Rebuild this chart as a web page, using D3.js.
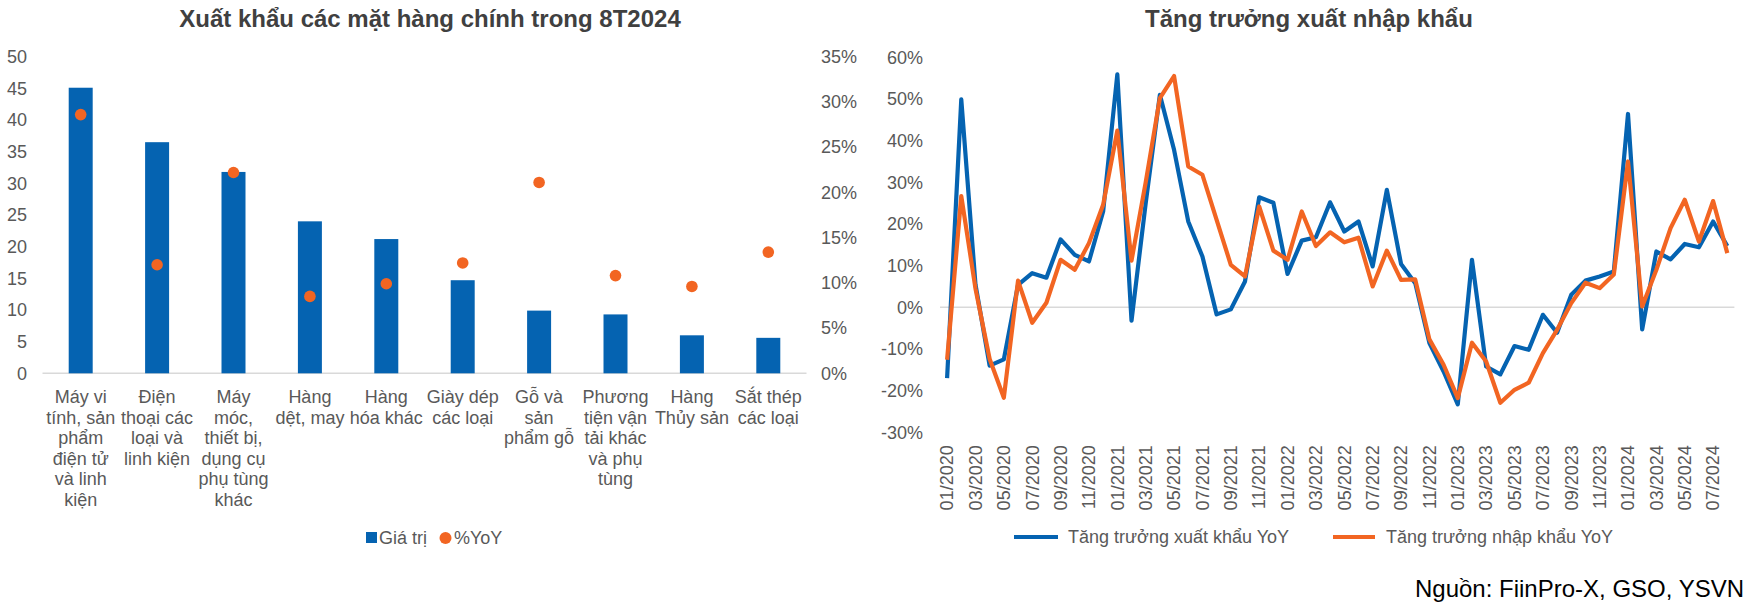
<!DOCTYPE html>
<html>
<head>
<meta charset="utf-8">
<script src="https://cdn.jsdelivr.net/npm/d3@7"></script>
<style>
  body { margin: 0; background: #fff; }
  text { font-family: Arial, "Liberation Sans", sans-serif; }
</style>
</head>
<body>
<div id="chart"></div>
<script>
const width = 1754;
const height = 603;

// bieu do trai: xuat khau cac mat hang chinh 8T2024
const categories = [
  'Máy vi\ntính, sản\nphẩm\nđiện tử\nvà linh\nkiện',
  'Điện\nthoại các\nloại và\nlinh kiện',
  'Máy\nmóc,\nthiết bị,\ndụng cụ\nphụ tùng\nkhác',
  'Hàng\ndệt, may',
  'Hàng\nhóa khác',
  'Giày dép\ncác loại',
  'Gỗ và\nsản\nphẩm gỗ',
  'Phương\ntiện vận\ntải khác\nvà phụ\ntùng',
  'Hàng\nThủy sản',
  'Sắt thép\ncác loại'
];
const exportValue = [45.1, 36.5, 31.8, 24.0, 21.2, 14.7, 9.9, 9.3, 6.0, 5.6];
const exportYoY = [28.6, 12.0, 22.2, 8.5, 9.9, 12.2, 21.1, 10.8, 9.6, 13.4];
const valueTicks = [0, 5, 10, 15, 20, 25, 30, 35, 40, 45, 50];
const yoyTicks = [0, 5, 10, 15, 20, 25, 30, 35];

// bieu do phai: tang truong xuat nhap khau
const months = [
  '01/2020','02/2020','03/2020','04/2020','05/2020','06/2020','07/2020','08/2020','09/2020','10/2020','11/2020','12/2020',
  '01/2021','02/2021','03/2021','04/2021','05/2021','06/2021','07/2021','08/2021','09/2021','10/2021','11/2021','12/2021',
  '01/2022','02/2022','03/2022','04/2022','05/2022','06/2022','07/2022','08/2022','09/2022','10/2022','11/2022','12/2022',
  '01/2023','02/2023','03/2023','04/2023','05/2023','06/2023','07/2023','08/2023','09/2023','10/2023','11/2023','12/2023',
  '01/2024','02/2024','03/2024','04/2024','05/2024','06/2024','07/2024','08/2024'
];
const exportGrowth = [
  -17.0, 49.9, 5.5, -14.0, -12.5, 5.4, 8.2, 7.1, 16.3, 12.6, 11.0, 23.0,
  55.9, -3.2, 25.0, 51.0, 37.8, 20.6, 12.2, -1.7, -0.5, 6.2, 26.4, 25.1,
  8.0, 16.0, 16.8, 25.2, 18.2, 20.6, 9.8, 28.2, 10.4, 5.8, -8.6, -15.4,
  -23.3, 11.4, -14.2, -16.1, -9.3, -10.2, -1.8, -6.1, 3.0, 6.4, 7.4, 8.6,
  46.4, -5.3, 13.4, 11.5, 15.2, 14.4, 20.6, 14.7
];
const importGrowth = [
  -12.6, 26.7, 4.5, -12.4, -21.7, 6.4, -3.7, 1.1, 11.4, 9.0, 15.4, 24.6,
  42.4, 11.2, 30.0, 50.2, 55.5, 33.8, 31.8, 21.0, 10.2, 7.4, 24.2, 13.6,
  11.4, 23.0, 14.7, 18.0, 15.6, 16.7, 5.0, 13.6, 6.6, 6.7, -7.7, -13.8,
  -21.8, -8.5, -13.0, -22.9, -19.8, -18.1, -11.0, -5.4, 1.0, 5.9, 4.6, 7.9,
  35.0, 0.2, 9.0, 19.0, 25.8, 15.8, 25.5, 13.0
];
const growthTicks = [-30, -20, -10, 0, 10, 20, 30, 40, 50, 60];

const blue = '#0563b1';
const orange = '#f26522';
const gray = '#595959';

let svg = d3.select('#chart').append('svg')
  .attr('width', width)
  .attr('height', height)
  .style('background', '#fff');

// ===== bieu do trai =====
let x1 = d3.scaleBand()
  .domain(categories)
  .range([42.5, 806.5])
  .paddingInner(0.686)
  .paddingOuter(0.343);
let yVal = d3.scaleLinear().domain([0, 50]).range([373.3, 56.7]);
let yPct = d3.scaleLinear().domain([0, 35]).range([373.3, 56.7]);

svg.append('text')
  .text('Xuất khẩu các mặt hàng chính trong 8T2024')
  .attr('x', 430)
  .attr('y', 27)
  .attr('text-anchor', 'middle')
  .style('font-size', '24px')
  .style('font-weight', 'bold')
  .style('fill', '#404040');

// truc trai
let axL = svg.append('g')
  .attr('transform', 'translate(27,0)')
  .call(d3.axisLeft(yVal).tickValues(valueTicks).tickSize(0).tickPadding(0));
axL.select('.domain').remove();
axL.selectAll('text').style('font-size', '18px').style('fill', gray);

// truc phai (%)
let axR = svg.append('g')
  .attr('transform', 'translate(821,0)')
  .call(d3.axisRight(yPct).tickValues(yoyTicks).tickSize(0).tickPadding(0).tickFormat(d => d + '%'));
axR.select('.domain').remove();
axR.selectAll('text').style('font-size', '18px').style('fill', gray);

// duong nen
svg.append('line')
  .attr('x1', 42.5).attr('x2', 806.5)
  .attr('y1', yVal(0)).attr('y2', yVal(0))
  .style('stroke', '#d9d9d9')
  .style('stroke-width', 1.5);

// cot gia tri
svg.append('g').selectAll('rect')
  .data(exportValue)
  .join('rect')
  .attr('x', (d, i) => x1(categories[i]))
  .attr('y', d => yVal(d))
  .attr('width', x1.bandwidth())
  .attr('height', d => yVal(0) - yVal(d))
  .style('fill', blue);

// diem %YoY
svg.append('g').selectAll('circle')
  .data(exportYoY)
  .join('circle')
  .attr('cx', (d, i) => x1(categories[i]) + x1.bandwidth() / 2)
  .attr('cy', d => yPct(d))
  .attr('r', 5.8)
  .style('fill', orange);

// nhan danh muc
let catLabels = svg.append('g').selectAll('text')
  .data(categories)
  .join('text')
  .attr('x', d => x1(d) + x1.bandwidth() / 2)
  .attr('y', 403)
  .attr('text-anchor', 'middle')
  .style('font-size', '18px')
  .style('fill', gray);
catLabels.each(function(d) {
  let t = d3.select(this);
  d.split('\n').forEach((line, k) => {
    t.append('tspan')
      .attr('x', t.attr('x'))
      .attr('dy', k === 0 ? 0 : 20.5)
      .text(line);
  });
});

// chu giai trai
let lg1 = svg.append('g');
lg1.append('rect')
  .attr('x', 366).attr('y', 532)
  .attr('width', 11).attr('height', 11)
  .style('fill', blue);
lg1.append('text')
  .text('Giá trị')
  .attr('x', 379).attr('y', 544)
  .style('font-size', '18px')
  .style('fill', gray);
lg1.append('circle')
  .attr('cx', 445.5).attr('cy', 538)
  .attr('r', 6)
  .style('fill', orange);
lg1.append('text')
  .text('%YoY')
  .attr('x', 454).attr('y', 544)
  .style('font-size', '18px')
  .style('fill', gray);

// ===== bieu do phai =====
let x2 = d3.scaleBand().domain(months).range([940, 1734.4]);
let y2 = d3.scaleLinear().domain([-30, 60]).range([432.3, 57.3]);

svg.append('text')
  .text('Tăng trưởng xuất nhập khẩu')
  .attr('x', 1309)
  .attr('y', 27)
  .attr('text-anchor', 'middle')
  .style('font-size', '24px')
  .style('font-weight', 'bold')
  .style('fill', '#404040');

let axY2 = svg.append('g')
  .attr('transform', 'translate(923,0)')
  .call(d3.axisLeft(y2).tickValues(growthTicks).tickSize(0).tickPadding(0).tickFormat(d => d + '%'));
axY2.select('.domain').remove();
axY2.selectAll('text').style('font-size', '18px').style('fill', gray);

// duong 0%
svg.append('line')
  .attr('x1', 940).attr('x2', 1734.4)
  .attr('y1', y2(0)).attr('y2', y2(0))
  .style('stroke', '#d9d9d9')
  .style('stroke-width', 1.5);

let axX2 = svg.append('g')
  .attr('transform', 'translate(0,' + y2(-30) + ')')
  .call(d3.axisBottom(x2).tickValues(months.filter((d, i) => i % 2 === 0)).tickSize(0));
axX2.select('.domain').remove();
axX2.selectAll('text')
  .attr('y', 0)
  .attr('x', -13)
  .attr('dy', '0.35em')
  .attr('transform', 'rotate(-90)')
  .style('text-anchor', 'end')
  .style('font-size', '18px')
  .style('fill', gray);

let line2 = d3.line()
  .x((d, i) => x2(months[i]) + x2.bandwidth() / 2)
  .y(d => y2(d));

svg.append('path')
  .datum(exportGrowth)
  .attr('d', line2)
  .style('fill', 'none')
  .style('stroke', blue)
  .style('stroke-width', 4.2)
  .style('stroke-linejoin', 'round');

svg.append('path')
  .datum(importGrowth)
  .attr('d', line2)
  .style('fill', 'none')
  .style('stroke', orange)
  .style('stroke-width', 4.2)
  .style('stroke-linejoin', 'round');

// chu giai phai
let lg2 = svg.append('g');
lg2.append('line')
  .attr('x1', 1014).attr('x2', 1058)
  .attr('y1', 537).attr('y2', 537)
  .style('stroke', blue)
  .style('stroke-width', 4.2);
lg2.append('text')
  .text('Tăng trưởng xuất khẩu YoY')
  .attr('x', 1068).attr('y', 543)
  .style('font-size', '18px')
  .style('fill', gray);
lg2.append('line')
  .attr('x1', 1333).attr('x2', 1375)
  .attr('y1', 537).attr('y2', 537)
  .style('stroke', orange)
  .style('stroke-width', 4.2);
lg2.append('text')
  .text('Tăng trưởng nhập khẩu YoY')
  .attr('x', 1386).attr('y', 543)
  .style('font-size', '18px')
  .style('fill', gray);

// nguon
svg.append('text')
  .text('Nguồn: FiinPro-X, GSO, YSVN')
  .attr('x', 1744)
  .attr('y', 597)
  .attr('text-anchor', 'end')
  .style('font-size', '24px')
  .style('fill', '#000');
</script>
</body>
</html>
